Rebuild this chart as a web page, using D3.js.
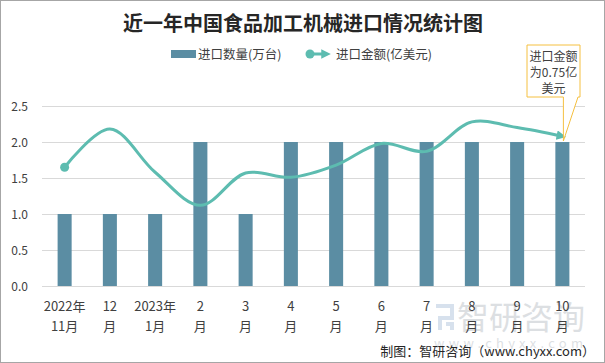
<!DOCTYPE html>
<html><head><meta charset="utf-8">
<script src="https://cdn.jsdelivr.net/npm/d3@7"></script>
<style>body{margin:0;background:#fff}svg{display:block}text{font-family:"Noto Sans CJK SC","Microsoft YaHei",sans-serif}</style>
</head><body>
<svg id="c" width="605" height="363"></svg>
<script>
const categories = ["2022年\n11月","12\n月","2023年\n1月","2\n月","3\n月","4\n月","5\n月","6\n月","7\n月","8\n月","9\n月","10\n月"];
const quantity = [1,1,1,2,1,2,2,2,2,2,2,2];
const amount = [1.65,2.18,1.58,1.12,1.57,1.51,1.68,1.98,1.87,2.28,2.2,2.08];
const yTicks = [0,0.5,1.0,1.5,2.0,2.5];
const title = "近一年中国食品加工机械进口情况统计图";
const legendNames = ["进口数量(万台)","进口金额(亿美元)"];
const calloutLines = ["进口金额","为0.75亿","美元"];

const svg = d3.select("#c");
const barColor = "#5b8da3", lineColor = "#5dbcb0";
svg.append("rect").attr("x",0.5).attr("y",0.5).attr("width",604).attr("height",362).attr("fill","#fff").attr("stroke","#a6a6a6");

const x = d3.scaleBand().domain(categories).range([42,585]).paddingInner(0.69).paddingOuter(0.345);
const y = d3.scaleLinear().domain([0,2.5]).range([286,106]);

// watermark
const wm = svg.append("g").attr("opacity",0.3);
wm.append("text").attr("x",457).attr("y",329).attr("font-size",32).attr("fill","#8f99a3").text("智研咨询");
wm.append("text").attr("x",434).attr("y",348).attr("font-size",13).attr("fill","#8f99a3").attr("textLength",149).text("www.chyxx.com");
wm.append("path").attr("d","M436,306H452V318H440V330M446,324H452V330").attr("fill","none").attr("stroke","#7d9fc4").attr("stroke-width",4);

// grid
svg.append("g").selectAll("line").data(yTicks).join("line")
  .attr("x1",42).attr("x2",585).attr("y1",d=>Math.round(y(d))+0.5).attr("y2",d=>Math.round(y(d))+0.5)
  .attr("stroke","#d9d9d9").attr("stroke-width",1);

// y axis labels
const yAxis = d3.axisLeft(y).tickValues(yTicks).tickFormat(d3.format(".1f")).tickSize(0).tickPadding(0);
const ga = svg.append("g").attr("transform","translate(28,0)").call(yAxis);
ga.select(".domain").remove();
ga.selectAll("text").attr("font-size",12).attr("fill","#404040").attr("font-family","'Liberation Sans',Arial,sans-serif").attr("dy","0.35em");

// bars
svg.append("g").selectAll("rect").data(quantity).join("rect")
  .attr("x",(d,i)=>x(categories[i])).attr("width",x.bandwidth())
  .attr("y",d=>y(d)).attr("height",d=>y(0)-y(d)).attr("fill",barColor);

// x labels
const gx = svg.append("g");
categories.forEach((c,i)=>{
  const t = gx.append("text").attr("x",x(c)+x.bandwidth()/2).attr("text-anchor","middle").attr("font-size",13).attr("fill","#404040");
  c.split("\n").forEach((s,j)=>t.append("tspan").attr("x",x(c)+x.bandwidth()/2).attr("y",j?331:311).text(s));
});

// line
const defs = svg.append("defs");
defs.append("marker").attr("id","arr").attr("viewBox","0 0 10 10").attr("refX",6).attr("refY",5)
  .attr("markerWidth",3.2).attr("markerHeight",3.2).attr("orient","auto").attr("markerUnits","strokeWidth")
  .append("path").attr("d","M0,0L10,5L0,10Z").attr("fill",lineColor);
const pts = amount.map((v,i)=>[x(categories[i])+x.bandwidth()/2, y(v)]);
svg.append("path").attr("d",d3.line().curve(d3.curveCatmullRom.alpha(0.5))(pts))
  .attr("fill","none").attr("stroke",lineColor).attr("stroke-width",3).attr("marker-end","url(#arr)");
svg.append("circle").attr("cx",pts[0][0]).attr("cy",pts[0][1]).attr("r",4.5).attr("fill",lineColor);

// callout
const last = pts[pts.length-1];
const bx0=527,bx1=580,by0=45,by1=97;
svg.append("path").attr("d",`M${bx0},${by0}H${bx1}V${by1}H578L${last[0]+1},${y(2)-1}L${last[0]+1},${by1}H${bx0}Z`)
  .attr("fill","#fff").attr("stroke","#f5c040").attr("stroke-width",1);
calloutLines.forEach((s,i)=>svg.append("text").attr("x",(bx0+bx1)/2).attr("y",61+i*16).attr("text-anchor","middle").attr("font-size",12).attr("fill","#404040").text(s));

// title
svg.append("text").attr("x",303).attr("y",31).attr("text-anchor","middle").attr("font-size",20).attr("font-weight","bold").attr("fill","#262626").text(title);

// legend
svg.append("rect").attr("x",171).attr("y",50).attr("width",25).attr("height",8).attr("fill",barColor);
svg.append("text").attr("x",198).attr("y",59).attr("font-size",12.5).attr("fill","#404040").text(legendNames[0]);
svg.append("line").attr("x1",310).attr("x2",327).attr("y1",54).attr("y2",54).attr("stroke",lineColor).attr("stroke-width",3).attr("marker-end","url(#arr)");
svg.append("circle").attr("cx",310).attr("cy",54).attr("r",4.5).attr("fill",lineColor);
svg.append("text").attr("x",336).attr("y",59).attr("font-size",12.5).attr("fill","#404040").text(legendNames[1]);

// footer
svg.append("text").attr("x",595).attr("y",356).attr("text-anchor","end").attr("font-size",13).attr("fill","#262626").text("制图：智研咨询（www.chyxx.com）");
</script>
</body></html>
